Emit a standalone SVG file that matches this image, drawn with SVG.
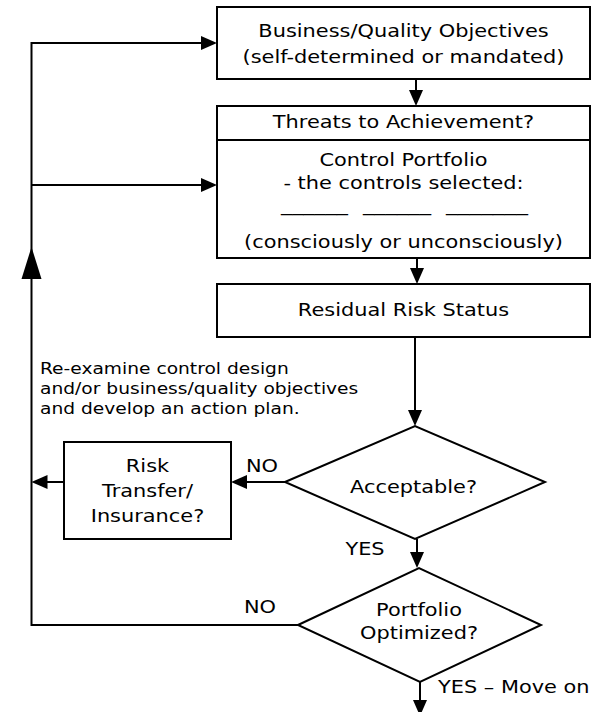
<svg xmlns="http://www.w3.org/2000/svg" width="600" height="712" viewBox="0 0 600 712">
<style>
.box{fill:#fff;stroke:#000;stroke-width:2}
.ln{fill:none;stroke:#000;stroke-width:2}
text{font-family:"DejaVu Sans","Verdana",sans-serif;fill:#000}
.t{font-size:18.5px;text-anchor:middle}
.l{font-size:18.5px}
.s{font-size:16.5px}
</style>
<defs>
<marker id="ah" markerUnits="userSpaceOnUse" markerWidth="16" markerHeight="16" viewBox="0 0 16 16" refX="11" refY="8" orient="auto">
<path d="M0,1 L16,8 L0,15 z" fill="#000"/>
</marker>
</defs>
<rect width="600" height="712" fill="#fff"/>

<g id="connectors">
<path class="ln" d="M416,79 V101" marker-end="url(#ah)"/>
<path class="ln" d="M417,258 V279" marker-end="url(#ah)"/>
<path class="ln" d="M415,337 V421" marker-end="url(#ah)"/>
<path class="ln" d="M285,482 H236" marker-end="url(#ah)"/>
<path class="ln" d="M64,482 H36.5" marker-end="url(#ah)"/>
<path class="ln" d="M417,539 V563" marker-end="url(#ah)"/>
<path class="ln" d="M298,625 H31.5 V43 H212" marker-end="url(#ah)"/>
<path class="ln" d="M31.5,185 H212" marker-end="url(#ah)"/>
<polygon points="31.5,247 21.5,279 41.5,279" fill="#000"/>
<path class="ln" d="M420,682 V711" marker-end="url(#ah)"/>
<text class="t" x="262" y="472.5" transform="matrix(1.13 0 0 1 -34.06 0)">NO</text>
<text class="t" x="365" y="555.5" transform="matrix(1.13 0 0 1 -47.45 0)">YES</text>
<text class="t" x="260" y="613" transform="matrix(1.13 0 0 1 -33.8 0)">NO</text>
<text class="l" x="438" y="693.5" transform="matrix(1.13 0 0 1 -56.94 0)">YES – Move on</text>
</g>

<g id="objectives">
<rect class="box" x="217" y="7" width="373" height="72"/>
<text class="t" x="403.5" y="37.5" transform="matrix(1.13 0 0 1 -52.455 0)">Business/Quality Objectives</text>
<text class="t" x="403.5" y="63.5" transform="matrix(1.13 0 0 1 -52.455 0)">(self-determined or mandated)</text>
</g>

<g id="threats">
<rect class="box" x="217" y="106" width="373" height="152"/>
<line class="ln" x1="217" y1="140" x2="590" y2="140"/>
<text class="t" x="403.5" y="128.5" transform="matrix(1.13 0 0 1 -52.455 0)">Threats to Achievement?</text>
<text class="t" x="403.5" y="166.5" transform="matrix(1.13 0 0 1 -52.455 0)">Control Portfolio</text>
<text class="t" x="403.5" y="189.5" transform="matrix(1.13 0 0 1 -52.455 0)">- the controls selected:</text>
<text class="l" x="281" y="211" textLength="67" lengthAdjust="spacingAndGlyphs">______</text>
<text class="l" x="363" y="211" textLength="68" lengthAdjust="spacingAndGlyphs">______</text>
<text class="l" x="446" y="211" textLength="82" lengthAdjust="spacingAndGlyphs">_______</text>
<text class="t" x="403.5" y="248" transform="matrix(1.13 0 0 1 -52.455 0)">(consciously or unconsciously)</text>
</g>

<g id="residual">
<rect class="box" x="217" y="284" width="373" height="53"/>
<text class="t" x="403.5" y="316.5" transform="matrix(1.13 0 0 1 -52.455 0)">Residual Risk Status</text>
</g>

<g id="note">
<text class="s" x="40" y="374" transform="matrix(1.13 0 0 1 -5.2 0)">Re-examine control design</text>
<text class="s" x="40" y="394" transform="matrix(1.13 0 0 1 -5.2 0)">and/or business/quality objectives</text>
<text class="s" x="40" y="414" transform="matrix(1.13 0 0 1 -5.2 0)">and develop an action plan.</text>
</g>

<g id="acceptable">
<polygon class="box" points="285,482 415,426 545,482 415,539"/>
<text class="t" x="413.5" y="493" transform="matrix(1.13 0 0 1 -53.755 0)">Acceptable?</text>
</g>

<g id="risk-transfer">
<rect class="box" x="64" y="442" width="167" height="97"/>
<text class="t" x="147.5" y="472" transform="matrix(1.13 0 0 1 -19.175 0)">Risk</text>
<text class="t" x="147.5" y="497" transform="matrix(1.13 0 0 1 -19.175 0)">Transfer/</text>
<text class="t" x="147.5" y="522" transform="matrix(1.13 0 0 1 -19.175 0)">Insurance?</text>
</g>

<g id="optimized">
<polygon class="box" points="298,625 419,568 541,625 420,682"/>
<text class="t" x="419" y="616.5" transform="matrix(1.13 0 0 1 -54.47 0)">Portfolio</text>
<text class="t" x="419" y="639.5" transform="matrix(1.13 0 0 1 -54.47 0)">Optimized?</text>
</g>
</svg>
